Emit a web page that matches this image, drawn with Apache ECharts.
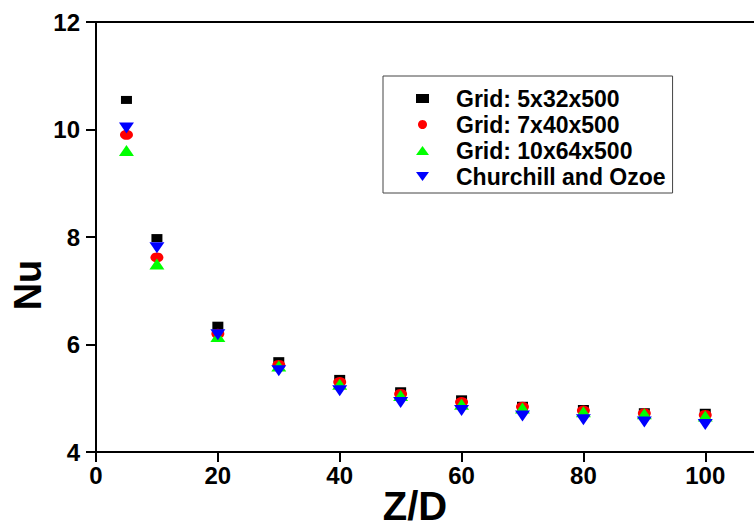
<!DOCTYPE html>
<html>
<head>
<meta charset="utf-8">
<script src="https://cdn.jsdelivr.net/npm/echarts@6/dist/echarts.min.js"></script>
<style>
  html, body { margin: 0; padding: 0; background: #fff; overflow: hidden; }
  #chart { width: 754px; height: 525px; }
</style>
</head>
<body>
<div id="chart"></div>
<script>
// Axial positions Z/D
const zd = [5, 10, 20, 30, 40, 50, 60, 70, 80, 90, 100];

// Nusselt number for each grid and the correlation
const grid5x32 = [10.55, 7.98, 6.35, 5.69, 5.36, 5.13, 4.98, 4.86, 4.80, 4.74, 4.73];
const grid7x40 = [9.90, 7.62, 6.20, 5.62, 5.30, 5.08, 4.93, 4.84, 4.77, 4.72, 4.69];
const grid10x64 = [9.61, 7.50, 6.15, 5.60, 5.26, 5.05, 4.89, 4.82, 4.75, 4.71, 4.67];
const churchillOzoe = [10.03, 7.80, 6.18, 5.51, 5.14, 4.92, 4.77, 4.67, 4.60, 4.56, 4.51];

const seriesNames = ['Grid: 5x32x500', 'Grid: 7x40x500', 'Grid: 10x64x500', 'Churchill and Ozoe'];
const xTicks = [0, 20, 40, 60, 80, 100];
const yTicks = [4, 6, 8, 10, 12];

const FONT = '"Liberation Sans", Arial, sans-serif';
const DOWN_TRIANGLE = 'path://M0,0 L10,0 L5,10 Z';

function pairs(ys) { return zd.map((x, i) => [x, ys[i]]); }

const chart = echarts.init(document.getElementById('chart'), null, { renderer: 'svg' });

const axisText = { color: '#000', fontFamily: FONT, fontWeight: 'bold', fontSize: 24 };

chart.setOption({
  animation: false,
  backgroundColor: '#fff',
  grid: { left: 96, right: 0, top: 22, bottom: 73, containLabel: false, outerBoundsMode: 'none' },
  legend: {
    orient: 'vertical',
    left: 383,
    top: 76,
    padding: [11, 7, 5, 33],
    itemWidth: 13,
    itemHeight: 9,
    itemGap: 3,
    symbolKeepAspect: false,
    borderColor: '#444',
    borderWidth: 1,
    textStyle: { color: '#000', fontFamily: FONT, fontWeight: 'bold', fontSize: 23, padding: [0, 0, 0, 22] },
    data: [
      { name: seriesNames[0], icon: 'rect' },
      { name: seriesNames[1], icon: 'circle' },
      { name: seriesNames[2], icon: 'triangle' },
      { name: seriesNames[3], icon: DOWN_TRIANGLE }
    ]
  },
  xAxis: [{
    type: 'value',
    min: 0,
    max: 108,
    interval: 20,
    name: 'Z/D',
    nameLocation: 'middle',
    nameGap: 37,
    nameMoveOverlap: false,
    nameTextStyle: { color: '#000', fontFamily: FONT, fontWeight: 'bold', fontSize: 40, lineHeight: 34, padding: [0, 20, 0, 0] },
    axisLine: { show: true, onZero: false, lineStyle: { color: '#000', width: 2 } },
    axisTick: { show: true, inside: false, length: 10, lineStyle: { color: '#000', width: 2 } },
    axisLabel: {
      ...axisText, margin: 11, showMaxLabel: false,
      formatter: v => (xTicks.includes(v) ? String(v) : '')
    },
    splitLine: { show: false }
  }, {
    type: 'value',
    position: 'top',
    min: 0,
    max: 108,
    axisLine: { show: true, onZero: false, lineStyle: { color: '#000', width: 2 } },
    axisTick: { show: false },
    axisLabel: { show: false },
    splitLine: { show: false }
  }],
  yAxis: {
    type: 'value',
    min: 4,
    max: 12,
    interval: 2,
    name: 'Nu',
    nameLocation: 'middle',
    nameGap: 49,
    nameMoveOverlap: false,
    nameTextStyle: { color: '#000', fontFamily: FONT, fontWeight: 'bold', fontSize: 38, padding: [0, 96, 0, 0] },
    axisLine: { show: true, onZero: false, lineStyle: { color: '#000', width: 2 } },
    axisTick: { show: true, inside: false, length: 10, lineStyle: { color: '#000', width: 2 } },
    axisLabel: {
      ...axisText, margin: 16,
      formatter: v => (yTicks.includes(v) ? String(v) : '')
    },
    splitLine: { show: false }
  },
  series: [
    {
      name: seriesNames[0], type: 'scatter', data: pairs(grid5x32),
      symbol: 'rect', symbolSize: [11, 8], z: 2,
      itemStyle: { color: '#000', opacity: 1 }
    },
    {
      name: seriesNames[1], type: 'scatter', data: pairs(grid7x40),
      symbol: 'circle', symbolSize: [13, 10], z: 3,
      itemStyle: { color: '#ff0000', opacity: 1 }
    },
    {
      name: seriesNames[2], type: 'scatter', data: pairs(grid10x64),
      symbol: 'triangle', symbolSize: [15, 11], z: 4,
      itemStyle: { color: '#00ff00', opacity: 1 }
    },
    {
      name: seriesNames[3], type: 'scatter', data: pairs(churchillOzoe),
      symbol: DOWN_TRIANGLE, symbolSize: [15, 11], z: 5,
      itemStyle: { color: '#0000ff', opacity: 1 }
    }
  ]
});
</script>
</body>
</html>
